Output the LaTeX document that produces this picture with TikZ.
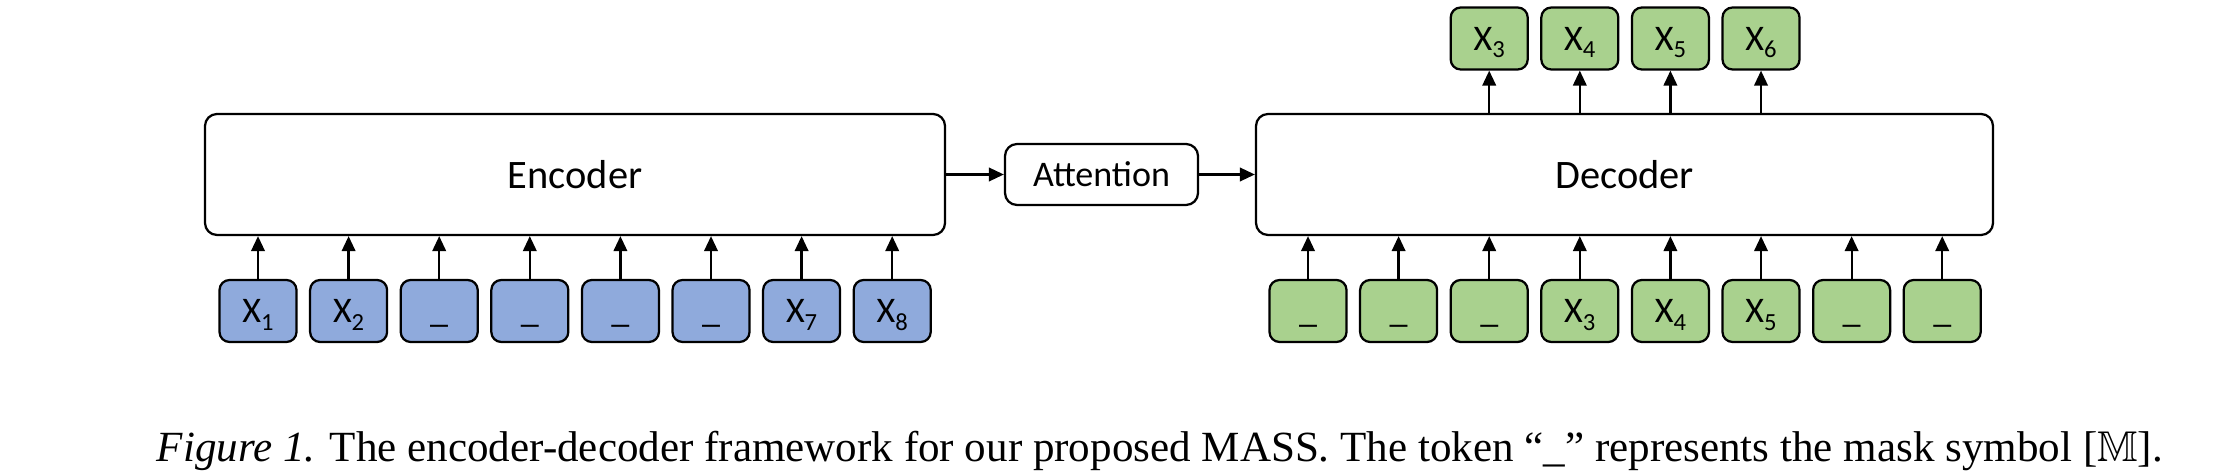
\documentclass[tikz,border=0pt]{standalone}
\usepackage{fontspec}
\usepackage{amssymb}
\setmainfont{Liberation Serif}
\newfontfamily\calibri{Carlito}
\usetikzlibrary{arrows.meta}
\definecolor{maskBlue}{HTML}{8FAADC}
\definecolor{maskGreen}{HTML}{A9D18E}
\newcommand{\xs}[1]{X\raisebox{-1.5mm}{\fontsize{14}{16}\selectfont#1}}
\tikzset{
  kBlock/.style={draw=black,line width=.45mm,rounded corners=2.4mm,fill=white,
        inner sep=0pt,font=\calibri\fontsize{23}{28}\selectfont},
  kAttn/.style={kBlock,font=\calibri\fontsize{20.5}{24}\selectfont},
  kTok/.style={draw=black,line width=.45mm,rounded corners=2mm,inner sep=0pt,
        minimum width=15.4mm,minimum height=12.4mm,text height=5.4mm,text depth=.6mm,
        font=\calibri\fontsize{20.5}{24}\selectfont},
  kEnc/.style={kTok,fill=maskBlue},
  kDec/.style={kTok,fill=maskGreen},
  kArrow/.style={line width=.45mm,-{Triangle[length=3mm,width=2.7mm]}},
}

\begin{document}
\begin{tikzpicture}[x=.2mm,y=-.2mm]
\useasboundingbox (0,0) rectangle (2236,476);
% encoder side
\node[kBlock,minimum width=148mm,minimum height=24.2mm] (enc) at (575,174.5) {Encoder};
\foreach \t [count=\i] in {\xs{1},\xs{2},\_,\_,\_,\_,\xs{7},\xs{8}}
  \node[kEnc] (e\i) at ({258+(\i-1)*90.6},311) {\t};
\foreach \i in {1,...,8}
  \draw[kArrow] (e\i) -- (e\i |- enc.south);
% attention
\node[kAttn,minimum width=38.6mm,minimum height=12.2mm] (att) at (1101.5,174.5) {Attention};
% decoder side
\node[kBlock,minimum width=147.4mm,minimum height=24.2mm] (dec) at (1624.5,174.5) {Decoder};
\foreach \t [count=\i] in {\_,\_,\_,\xs{3},\xs{4},\xs{5},\_,\_}
  \node[kDec] (d\i) at ({1308+(\i-1)*90.6},311) {\t};
\foreach \i in {1,...,8}
  \draw[kArrow] (d\i) -- (d\i |- dec.south);
\foreach \i in {3,...,6}{
  \node[kDec] (o\i) at ({1308+(\i-1)*90.6},38.5) {\xs{\i}};
  \draw[kArrow] (d\i |- dec.north) -- (o\i);
}
\draw[kArrow] (enc) -- (att);
\draw[kArrow] (att) -- (dec);
% caption
\node[anchor=base,inner sep=0pt,font=\fontsize{24.5}{28}\selectfont] (cap) at (1160,461)
  {\textit{Figure 1.} The encoder-decoder framework for our proposed MASS. The token \textquotedblleft\_\textquotedblright\ represents the mask symbol [$\mathbb{M}$].};
\end{tikzpicture}
\end{document}
